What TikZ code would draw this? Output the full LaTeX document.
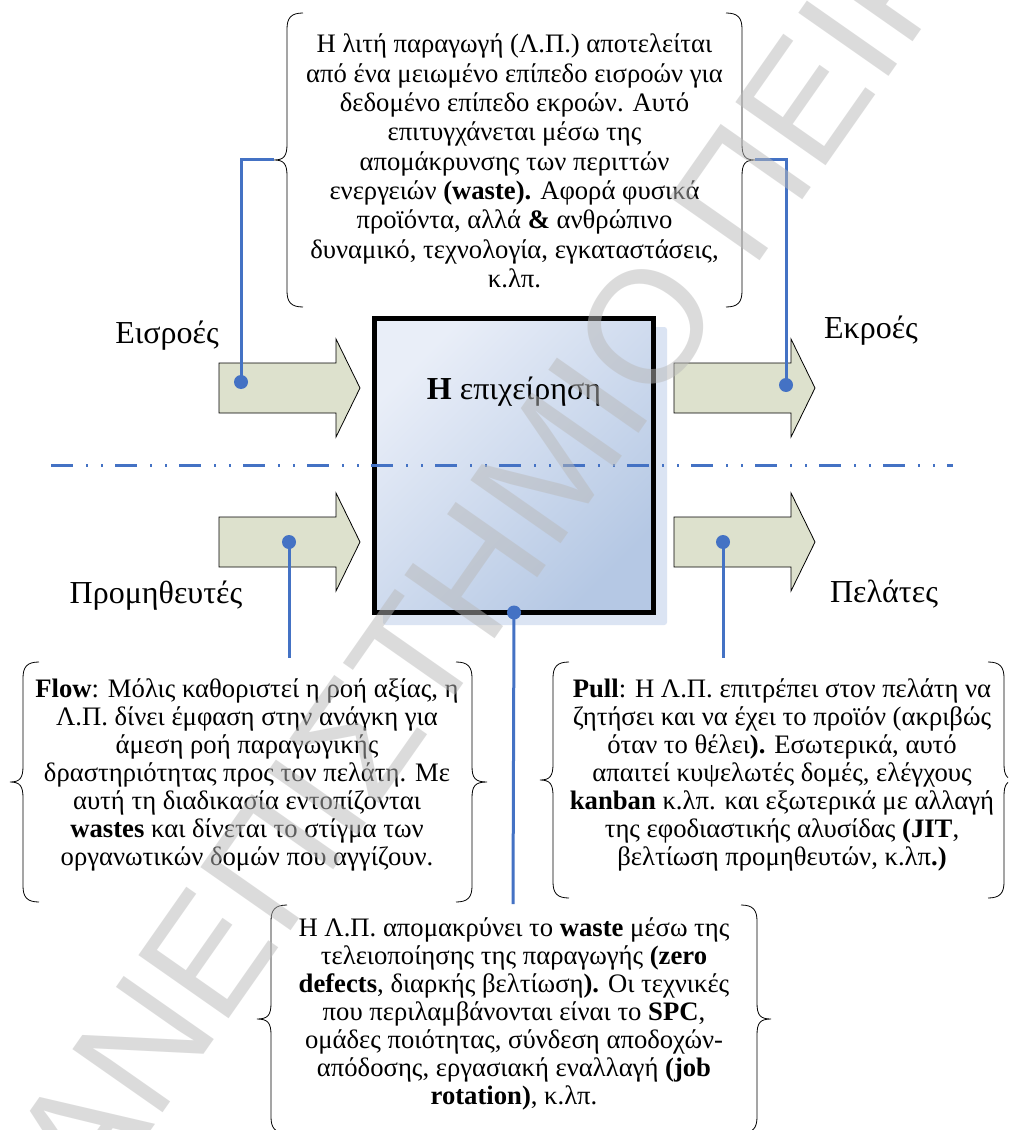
\documentclass[tikz,border=0pt]{standalone}
\usepackage{fontspec}
\setmainfont{Liberation Serif}
\newfontfamily\wmfont{Liberation Sans}
\usetikzlibrary{calc}

\definecolor{linkblue}{HTML}{4472C4}
\definecolor{arrowfill}{RGB}{221,225,205}
\definecolor{boxlight}{RGB}{233,238,248}
\definecolor{boxdark}{RGB}{181,200,228}
\definecolor{glow}{RGB}{219,228,243}
\definecolor{wmgray}{RGB}{185,185,185}

\tikzset{
  connector/.style={draw=linkblue, line width=2.25pt},
  dotend/.style={circle, fill=linkblue, inner sep=0pt, minimum size=10.5pt},
  fatarrow/.style={draw=black, line width=0.6pt, fill=arrowfill, line join=miter},
  bracket/.style={draw=black, line width=0.6pt},
  flowlabel/.style={inner sep=0pt, font=\fontsize{24}{28}\selectfont},
  notetext/.style={align=center, inner sep=0pt, font=\fontsize{20}{21}\selectfont},
  firmbox/.style={draw=black, line width=3.75pt, minimum width=209.25pt,
    minimum height=220.5pt, inner sep=0pt, outer sep=0pt,
    top color=boxlight, bottom color=boxdark, shading angle=45},
  sepline/.style={draw=linkblue, line width=2.25pt,
    dash pattern=on 16.5pt off 9.75pt on 1.5pt off 9.75pt on 1.5pt off 9pt},
  watermark/.style={text=wmgray, opacity=0.5, inner sep=0pt,
    font=\wmfont\fontsize{120}{120}\selectfont}
}

% left curly bracket: #1 name of tip, #2 spine x, #3 tip x, #4 top y, #5 middle y, #6 bottom y
\newcommand\leftcurl[6]{%
  \draw[bracket] (#2+16,#4) .. controls (#2+4,#4) and (#2,#4+5) .. (#2,#4+16)
    -- (#2,#5-16) .. controls (#2,#5-4) and (#2-3,#5) .. (#3,#5)
    .. controls (#2-3,#5) and (#2,#5+4) .. (#2,#5+16)
    -- (#2,#6-16) .. controls (#2,#6-5) and (#2+4,#6) .. (#2+16,#6);
  \coordinate (#1) at (#3,#5);}
% right curly bracket, same arguments
\newcommand\rightcurl[6]{%
  \draw[bracket] (#2-16,#4) .. controls (#2-4,#4) and (#2,#4+5) .. (#2,#4+16)
    -- (#2,#5-16) .. controls (#2,#5-4) and (#2+3,#5) .. (#3,#5)
    .. controls (#2+3,#5) and (#2,#5+4) .. (#2,#5+16)
    -- (#2,#6-16) .. controls (#2,#6-5) and (#2-4,#6) .. (#2-16,#6);
  \coordinate (#1) at (#3,#5);}
% block arrow: #1 name, #2 tail x, #3 axis y
\newcommand\blockarrow[3]{%
  \draw[fatarrow] (#2,#3-25) -- (#2+117,#3-25) -- (#2+117,#3-49) -- (#2+141,#3)
    -- (#2+117,#3+49) -- (#2+117,#3+25) -- (#2,#3+25) -- cycle;
  \coordinate (#1) at (#2+70,#3);}

\begin{document}
\begin{tikzpicture}[x=0.75pt,y=-0.75pt]
  \fill[white] (0,0) rectangle (1008,1130);
  \path[use as bounding box, clip] (0,0) rectangle (1008,1130);

  % the firm
  \fill[glow, rounded corners=2pt] (383,327) rectangle (667,625);
  \node[firmbox] (firm) at (514,465.5) {};
  \node[inner sep=0pt, font=\fontsize{24}{28}\selectfont] (firmname) at (514,392) {\textbf{Η} επιχείρηση};

  % flows in and out
  \blockarrow{inflow}{219}{388}
  \blockarrow{outflow}{674}{388}
  \blockarrow{supflow}{219}{542}
  \blockarrow{cusflow}{674}{542}

  \node[flowlabel] (inlabel) at (167,336) {Εισροές};
  \node[flowlabel] (outlabel) at (871,331) {Εκροές};
  \node[flowlabel] (suplabel) at (156,596) {Προμηθευτές};
  \node[flowlabel] (cuslabel) at (884,594) {Πελάτες};

  % boundary line
  \coordinate (sepL) at (51,465);
  \coordinate (sepR) at (953,465);
  \draw[sepline] (sepL) -- (sepR);

  % notes
  \leftcurl{leanL}{287}{274}{13}{160}{307}
  \rightcurl{leanR}{742}{755}{13}{160}{307}
  \node[notetext, font=\fontsize{20}{22}\selectfont] (lean) at (514.5,161) {Η λιτή παραγωγή (Λ.Π.) αποτελείται\\
    από ένα μειωμένο επίπεδο εισροών για\\
    δεδομένο επίπεδο εκροών. Αυτό\\
    επιτυγχάνεται μέσω της\\
    απομάκρυνσης των περιττών\\
    ενεργειών \textbf{(waste).} Αφορά φυσικά\\
    προϊόντα, αλλά \textbf{\&} ανθρώπινο\\
    δυναμικό, τεχνολογία, εγκαταστάσεις,\\
    κ.λπ.};

  \leftcurl{flowL}{23}{10}{662}{782}{902}
  \rightcurl{flowR}{472}{487}{662}{782}{902}
  \node[notetext] (flow) at (247,775) {\textbf{Flow}: Μόλις καθοριστεί η ροή αξίας, η\\
    Λ.Π. δίνει έμφαση στην ανάγκη για\\
    άμεση ροή παραγωγικής\\
    δραστηριότητας προς τον πελάτη. Με\\
    αυτή τη διαδικασία εντοπίζονται\\
    \textbf{wastes} και δίνεται το στίγμα των\\
    οργανωτικών δομών που αγγίζουν.};

  \leftcurl{pullL}{553}{540}{662}{780}{898}
  \rightcurl{pullR}{1004}{1018}{662}{780}{898}
  \node[notetext] (pull) at (782,775) {\textbf{Pull}: Η Λ.Π. επιτρέπει στον πελάτη να\\
    ζητήσει και να έχει το προϊόν (ακριβώς\\
    όταν το θέλει\textbf{).} Εσωτερικά, αυτό\\
    απαιτεί κυψελωτές δομές, ελέγχους\\
    \textbf{kanban} κ.λπ. και εξωτερικά με αλλαγή\\
    της εφοδιαστικής αλυσίδας \textbf{(JIT},\\
    βελτίωση προμηθευτών, κ.λπ\textbf{.)}};

  \leftcurl{perfL}{271}{257}{905}{1019}{1133}
  \rightcurl{perfR}{757}{771}{905}{1019}{1133}
  \node[notetext] (perf) at (514,1014) {Η Λ.Π. απομακρύνει το \textbf{waste} μέσω της\\
    τελειοποίησης της παραγωγής \textbf{(zero}\\
    \textbf{defects}, διαρκής βελτίωση\textbf{).} Οι τεχνικές\\
    που περιλαμβάνονται είναι το \textbf{SPC},\\
    ομάδες ποιότητας, σύνδεση αποδοχών-\\
    απόδοσης, εργασιακή εναλλαγή \textbf{(job}\\
    \textbf{rotation)}, κ.λπ.};

  % connectors
  \node[dotend] (inDot) at (241,382) {};
  \node[dotend] (outDot) at (786,385) {};
  \node[dotend] (supDot) at (289,542) {};
  \node[dotend] (cusDot) at (723,542) {};
  \node[dotend] (firmDot) at (firm.south) {};
  \coordinate (supEnd) at (289,658);
  \coordinate (cusEnd) at (723,658);
  \coordinate (firmEnd) at (513,904);

  \draw[connector] (leanL) -| (inDot.center);
  \draw[connector] (leanR) -| (outDot.center);
  \draw[connector] (supDot.center) -- (supEnd);
  \draw[connector] (cusDot.center) -- (cusEnd);
  \draw[connector] (firmDot.center) -- (firmEnd);

  % institutional watermark
  \node[watermark, rotate=55, anchor=base west] (wm) at (28,1306) {ΠΑΝΕΠΙΣΤΗΜΙΟ ΠΕΙΡΑΙΩΣ};
\end{tikzpicture}
\end{document}
